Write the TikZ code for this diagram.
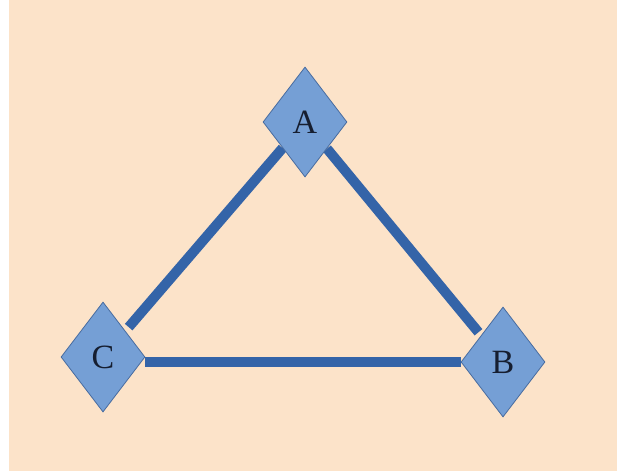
\documentclass[tikz,border=0pt]{standalone}
\usepackage{fontspec}
\setmainfont{Liberation Serif}
\usetikzlibrary{shapes.geometric,backgrounds}
\definecolor{bgcol}{RGB}{252,227,201}
\definecolor{dfill}{RGB}{117,159,213}
\definecolor{dborder}{RGB}{72,108,160}
\definecolor{edgecol}{RGB}{52,100,168}
\definecolor{txt}{RGB}{22,30,48}
\tikzset{
  vert/.style={diamond, draw=dborder, line width=0.8pt, fill=dfill, inner sep=0pt,
    minimum width=84pt, minimum height=110pt, text=txt,
    font=\fontsize{34}{36}\selectfont},
  edge/.style={draw=edgecol, line width=10pt}
}
\begin{document}
\begin{tikzpicture}[x=1pt,y=-1pt]
\useasboundingbox (0,0) rectangle (617,472);
\node[vert] (A) at (305,122) {A};
\node[vert] (C) at (103,357) {C};
\node[vert] (B) at (503,362) {B};
\begin{scope}[on background layer]
  \fill[bgcol] (9,0) rectangle (617,471);
  \draw[edge, shorten >=5pt] (A) -- (C);
  \draw[edge, shorten >=4pt] (A) -- (B);
  \draw[edge] (C.east |- B.west) -- (B.west);
\end{scope}
\end{tikzpicture}
\end{document}
